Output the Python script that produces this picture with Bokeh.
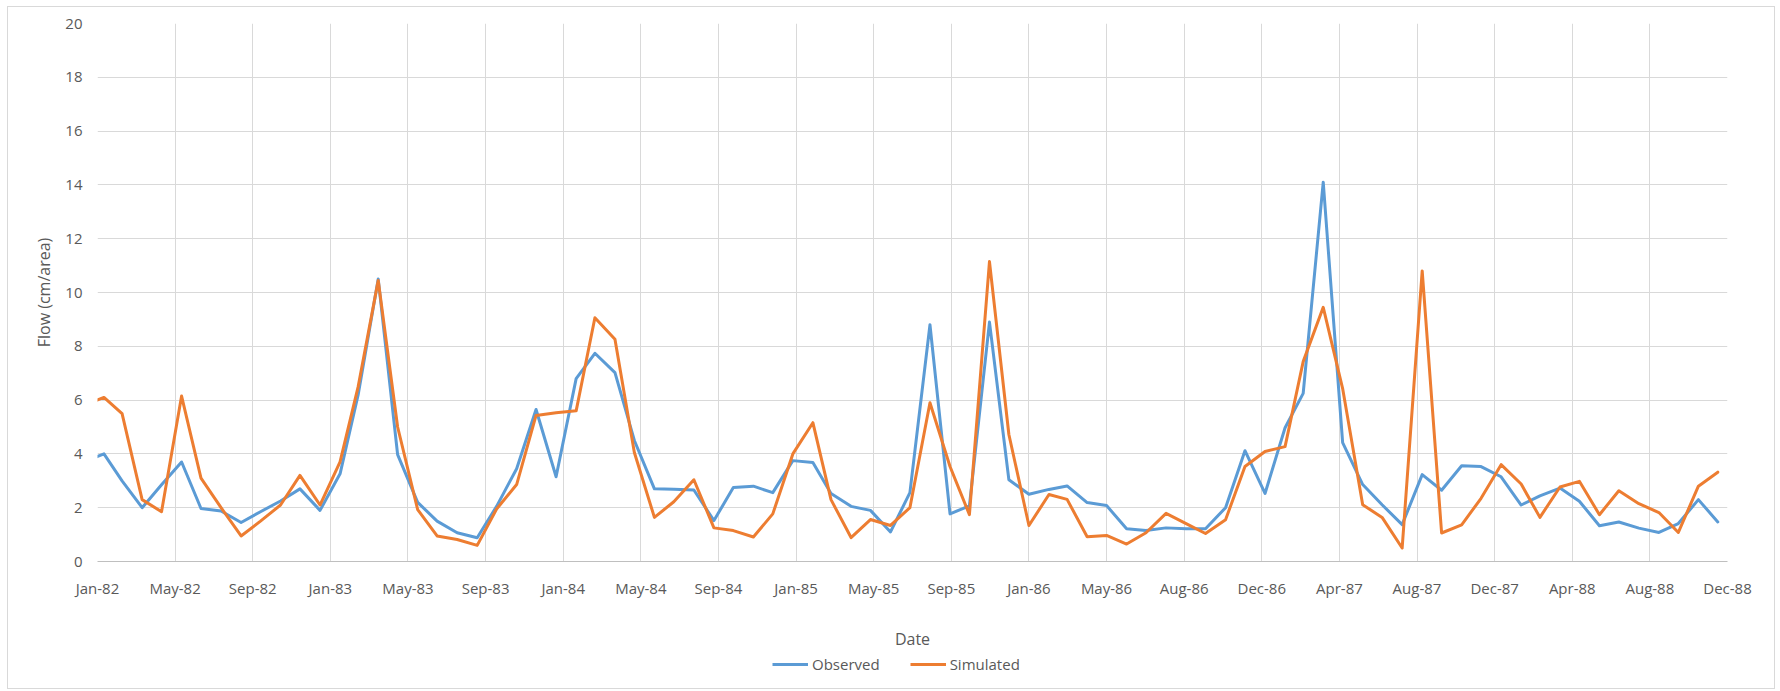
import pandas as pd
from bokeh.plotting import figure
from bokeh.layouts import column
from bokeh.models import Range1d, FixedTicker, Legend, LegendItem
from bokeh.embed import file_html
from bokeh.resources import INLINE

# ---- data -------------------------------------------------------------
# monthly dates (first of each month), Jan-1982 .. Dec-1988
months = pd.date_range("1982-01-01", "1988-12-01", freq="MS")

observed = [3.7,
            4.0, 3.0, 2.0, 2.85, 3.7, 1.97, 1.88, 1.45, 1.85, 2.25, 2.7,
            1.9, 3.26, 6.2, 10.5, 3.97, 2.2, 1.5, 1.07, 0.88, 2.05, 3.45, 5.65, 3.15, 6.8,
            7.74, 7.02, 4.5, 2.7, 2.69, 2.66, 1.52, 2.75, 2.8, 2.56, 3.75, 3.68, 2.53, 2.05,
            1.9, 1.1, 2.56, 8.8, 1.77, 2.07, 8.9, 3.04, 2.5, 2.68, 2.81, 2.19, 2.08, 1.22,
            1.15, 1.25, 1.22, 1.22, 2.0, 4.12, 2.53, 4.97, 6.25, 14.1, 4.42, 2.86, 2.11, 1.37, 3.23,
            2.65, 3.56, 3.53, 3.15, 2.1, 2.44, 2.73, 2.24, 1.33, 1.47, 1.24, 1.08, 1.41, 2.3, 1.47]

simulated = [5.8,
             6.1, 5.5, 2.3, 1.85, 6.15, 3.1, 2.0, 0.95, 1.5, 2.1, 3.2,
             2.1, 3.7, 6.5, 10.45, 5.0, 1.93, 0.95, 0.82, 0.6, 1.95, 2.86, 5.43, 5.53, 5.6,
             9.06, 8.26, 4.05, 1.64, 2.22, 3.04, 1.25, 1.15, 0.91, 1.77, 4.0, 5.16, 2.3, 0.89,
             1.56, 1.34, 2.0, 5.9, 3.53, 1.74, 11.15, 4.72, 1.34, 2.49, 2.31, 0.92, 0.97, 0.65,
             1.07, 1.79, 1.41, 1.04, 1.55, 3.53, 4.09, 4.27, 7.43, 9.45, 6.43, 2.11, 1.64, 0.5, 10.8,
             1.06, 1.36, 2.35, 3.6, 2.88, 1.64, 2.77, 2.98, 1.74, 2.63, 2.15, 1.82, 1.08, 2.8, 3.32]

series_names = ["Observed", "Simulated"]
series_colors = ["#5B9BD5", "#ED7D31"]

tick_labels = ["Jan-82", "May-82", "Sep-82", "Jan-83", "May-83", "Sep-83", "Jan-84",
               "May-84", "Sep-84", "Jan-85", "May-85", "Sep-85", "Jan-86", "May-86",
               "Aug-86", "Dec-86", "Apr-87", "Aug-87", "Dec-87", "Apr-88", "Aug-88", "Dec-88"]
y_ticks = [0, 2, 4, 6, 8, 10, 12, 14, 16, 18, 20]

# ---- date axis (days since 1 Jan 1982), major unit of 120 days ---------
origin = pd.Timestamp("1982-01-01")
axis_start = (pd.Timestamp("1982-01-22") - origin).days
major_days = 120
x = [(m - origin).days for m in months]
x_ticks = [axis_start + i * major_days for i in range(len(tick_labels))]

TEXT = "#595959"
GRID = "#D9D9D9"
FONT = "Open Sans"
W = 1766

# ---- main chart -------------------------------------------------------
p = figure(width=W, height=646, output_backend="svg", toolbar_location=None,
           x_range=Range1d(x_ticks[0], x_ticks[-1]), y_range=Range1d(0, 20),
           min_border_left=89, min_border_right=47, min_border_top=16,
           min_border_bottom=92)
p.outline_line_color = None
p.background_fill_color = "white"
p.border_fill_color = "white"

for vals, col in zip([observed, simulated], series_colors):
    p.line(x, vals, line_color=col, line_width=3,
           line_join="round", line_cap="round")

xa = p.xaxis[0]
xa.ticker = FixedTicker(ticks=x_ticks)
xa.major_label_overrides = {t: lab for t, lab in zip(x_ticks, tick_labels)}
xa.axis_line_color = "#BFBFBF"
xa.major_tick_line_color = None
xa.minor_tick_line_color = None
xa.major_tick_out = 0
xa.major_label_standoff = 16
xa.major_label_text_font = FONT
xa.major_label_text_font_size = "15px"
xa.major_label_text_color = TEXT
xa.axis_label = "Date"
xa.axis_label_text_font = FONT
xa.axis_label_text_font_size = "16px"
xa.axis_label_text_font_style = "normal"
xa.axis_label_text_color = TEXT
xa.axis_label_standoff = 27

ya = p.yaxis[0]
ya.ticker = FixedTicker(ticks=y_ticks)
ya.axis_line_color = None
ya.major_tick_line_color = None
ya.minor_tick_line_color = None
ya.major_tick_out = 0
ya.major_label_standoff = 15
ya.major_label_text_font = FONT
ya.major_label_text_font_size = "15px"
ya.major_label_text_color = TEXT
ya.axis_label = "Flow (cm/area)"
ya.axis_label_text_font = FONT
ya.axis_label_text_font_size = "16px"
ya.axis_label_text_font_style = "normal"
ya.axis_label_text_color = TEXT
ya.axis_label_standoff = 7

p.xgrid.ticker = FixedTicker(ticks=x_ticks)
p.ygrid.ticker = FixedTicker(ticks=y_ticks)
p.xgrid.grid_line_color = GRID
p.ygrid.grid_line_color = GRID

# ---- legend strip below the chart (series drawn off-view, only keys show)
lg = figure(width=W, height=35, output_backend="svg", toolbar_location=None,
            x_range=Range1d(-20, -10), y_range=Range1d(0, 1),
            min_border=0, x_axis_type=None, y_axis_type=None)
lg.outline_line_color = None
lg.xgrid.visible = False
lg.ygrid.visible = False
lg.border_fill_color = "white"
items = []
for name, vals, col in zip(series_names, [observed, simulated], series_colors):
    r = lg.line(x, vals, line_color=col, line_width=3)
    items.append(LegendItem(label=name, renderers=[r]))
legend = Legend(items=items, orientation="horizontal", location=(675, 14),
                glyph_width=36, glyph_height=20, label_standoff=4, spacing=30,
                padding=0, margin=0, border_line_color=None,
                background_fill_alpha=0,
                label_text_font=FONT, label_text_font_size="15px",
                label_text_color=TEXT)
lg.add_layout(legend, "center")

layout = column(p, lg, spacing=0,
                styles={"margin-left": "8px", "margin-top": "7px",
                        "outline": "1px solid #D9D9D9"})

open("out.html", "w").write(file_html(layout, INLINE))
